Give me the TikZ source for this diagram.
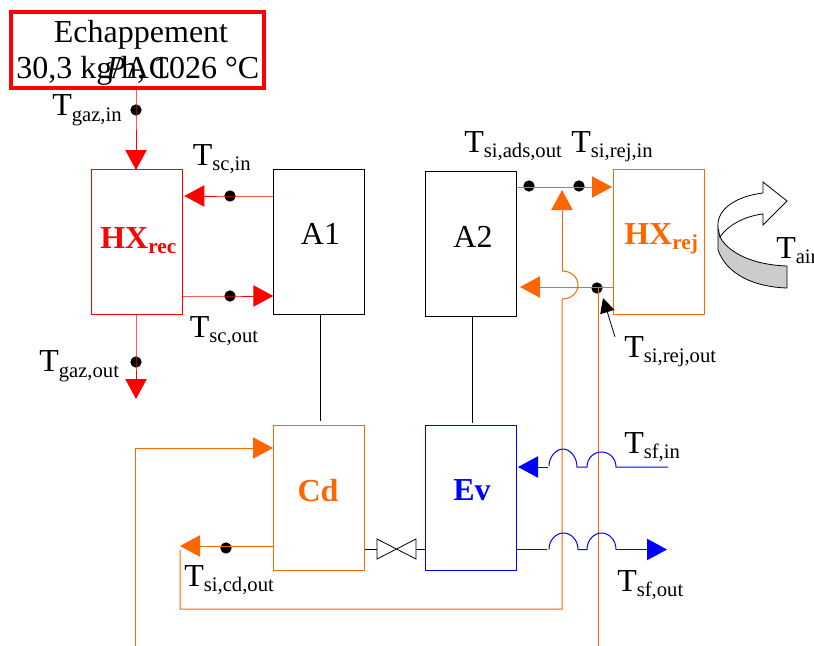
\documentclass[tikz,border=0pt]{standalone}
\usepackage{fontspec}
\setmainfont{Liberation Serif}
\usetikzlibrary{arrows.meta,calc}
\definecolor{orng}{HTML}{FF6600}
\newcommand{\Tsub}[1]{T\raisebox{-4.2pt}{\fontsize{15.5}{16}\selectfont #1}}
\newcommand{\Bsub}[2]{#1\raisebox{-4pt}{\fontsize{16}{16}\selectfont #2}}
\tikzset{
  box/.style={draw=#1,line width=.75pt,inner sep=0pt,minimum width=68.25pt,minimum height=108.75pt},
  lab/.style={anchor=base west,inner sep=0pt,font=\fontsize{24}{24}\selectfont},
  labc/.style={anchor=base,inner sep=0pt,font=\fontsize{24}{24}\selectfont},
  boldl/.style={anchor=base,inner sep=0pt,font=\fontsize{24}{24}\selectfont\bfseries,text=#1},
  dot/.style={circle,fill=black,inner sep=0pt,minimum size=8.5pt},
  pipe/.style={draw=#1,line width=.75pt},
  head/.style={-{Triangle[length=15pt,width=16pt,fill=#1]}},
  thin black/.style={draw=black,line width=.6pt}
}
\begin{document}
\begin{tikzpicture}[x=.75pt,y=-.75pt]
\useasboundingbox (0,0) rectangle (814,646);
% boxes
\node[draw=red,line width=3pt,inner sep=0pt,minimum width=190pt,minimum height=57.5pt] (ech) at (137.5,50) {};
\node[box=red] (HXrec) at (137.3,241.5) {};
\node[box=black] (A1) at (319.3,241.5) {};
\node[box=black] (A2) at (471.3,243.5) {};
\node[box=orng] (HXrej) at (659.3,241.5) {};
\node[box=orng] (Cd) at (319.3,497.5) {};
\node[box=blue] (Ev) at (471.3,497.5) {};
% box texts
\node[labc] (t1) at (141,42) {Echappement};
\node[lab] (t2) at (16,78) {30,3 kg/h, 1026 °C};
\node[lab] (t3) at (106,78) {\textit{P}AC};
\node[labc] (tA1) at (320.5,244) {A1};
\node[labc] (tA2) at (473,247) {A2};
\node[boldl=red,anchor=base west] (tHXrec) at (100,248.5) {\Bsub{HX}{rec}};
\node[boldl=orng,anchor=base west] (tHXrej) at (624,244.5) {\Bsub{HX}{rej}};
\node[boldl=orng] (tCd) at (318,501) {Cd};
\node[boldl=blue] (tEv) at (472,500) {Ev};
% coordinates
\coordinate (gin) at (136,89);
\coordinate (gintip) at (136,170);
\node[dot] (dgin) at (136,110) {};
\node[dot] (dscin) at (230,196) {};
\node[dot] (dscout) at (230,296) {};
\node[dot] (dgout) at (136,362) {};
\coordinate (gouttip) at (136,399);
\node[dot] (dads) at (529,186) {};
\node[dot] (drejin) at (579,186) {};
\node[dot] (drejout) at (597,288) {};
\node[dot] (dcd) at (226,548) {};
\coordinate (lA1) at (320,421);
\coordinate (lA2) at (472,423);
% red
\draw[pipe=red,head=red,red] (gin) -- (dgin.center) -- (gintip);
\draw[pipe=red,head=red,red] (A1.west |- dscin) -- (dscin.center) -- ($(HXrec.east |- dscin)+(1,0)$);
\draw[pipe=red,head=red,red] (HXrec.east |- dscout) -- (dscout.center) -- (A1.west |- dscout);
\draw[pipe=red,head=red,red] (HXrec.south -| dgout) -- (dgout.center) -- (gouttip);
% black links
\draw[thin black] (A1.south -| lA1) -- (lA1);
\draw[thin black] (A2.south -| lA2) -- (lA2);
% orange
\coordinate (tA2in) at (612,187);
\draw[pipe=orng,head=orng,orng] (A2.east |- tA2in) -- (tA2in);
\coordinate (vtip) at (562,190);
\coordinate (j1) at (562,271);
\coordinate (j2) at (562,299);
\coordinate (bc) at (562,609);
\coordinate (bl) at (180,609);
\coordinate (blt) at (180,550);
\draw[pipe=orng,head=orng,orng] (j1) -- (vtip);
\draw[pipe=orng] (j1) .. controls (571,271) and (578,277) .. (578,285) .. controls (578,293) and (571,299) .. (j2) -- (bc) -- (bl) -- (blt);
\coordinate (retTip) at (520,287);
\draw[pipe=orng,head=orng,orng] (HXrej.west |- retTip) -- (retTip);
\coordinate (rd) at (598,646);
\draw[pipe=orng] (rd |- drejout) -- (rd);
\coordinate (cdtip) at (180,546);
\draw[pipe=orng,head=orng,orng] (Cd.west |- cdtip) -- (cdtip);
\coordinate (ll) at (135,646);
\coordinate (lu) at (135,448);
\coordinate (cdin) at (273,448);
\draw[pipe=orng,head=orng,orng] (ll) -- (lu) -- (cdin);
% small black pointer
\coordinate (pt) at (615,337);
\coordinate (ptt) at (603,298);
\draw[black,line width=.6pt,-{Triangle[length=11pt,width=11pt]}] (pt) -- (ptt);
% blue
\coordinate (bin0) at (668,467);
\coordinate (bintip) at (518,467);
\draw[pipe=blue] (bin0) -- (616,467) .. controls (616,458) and (609,452) .. (601.5,452) .. controls (594,452) and (587,458) .. (587,467) -- (577,467) .. controls (577,457) and (570,449) .. (563,449) .. controls (556,449) and (549,457) .. (549,466);
\coordinate (bmid) at (548,467);
\draw[pipe=blue,head=blue,blue] (bmid) -- (bintip);
\coordinate (bout) at (667,549.5);
\draw[pipe=blue] (Ev.east |- bout) -- (547,549.5);
\draw[pipe=blue] (549,549.5) .. controls (549,540) and (556,533) .. (563.5,533) .. controls (571,533) and (578,540) .. (578,549.5) -- (587,549.5) .. controls (587,540) and (594,533) .. (601.5,533) .. controls (609,533) and (616,540) .. (616,549.5);
\draw[pipe=blue,head=blue,blue] (616,549.5) -- (bout);
% valve
\coordinate (va) at (377,549);
\coordinate (vb) at (416,549);
\draw[thin black] (Cd.east |- va) -- (va);
\draw[thin black] (vb) -- (Ev.west |- vb);
\draw[thin black] (377,539) -- (416,559) -- (416,539) -- (377,559) -- cycle;
% rotation arrow
\fill[gray!40,draw=black,line width=.6pt] (720,237) .. controls (729,254) and (755,265) .. (787,266) -- (787,288) .. controls (755,287) and (727,275) .. (718,250) -- (718,225) -- cycle;
\draw[fill=white,line width=.6pt] (720,237) .. controls (728,225) and (745,216) .. (763,214) -- (763,225) -- (787,201) -- (763,182) -- (763,193) .. controls (738,196) and (716,208) .. (718,228) -- cycle;
% labels
\node[lab] (lgin) at (52,115.5) {\Tsub{gaz,in}};
\node[lab] (lscin) at (192.5,165) {\Tsub{sc,in}};
\node[lab] (lscout) at (189.5,337) {\Tsub{sc,out}};
\node[lab] (lgout) at (39,371.5) {\Tsub{gaz,out}};
\node[lab] (lads) at (464,152) {\Tsub{si,ads,out}};
\node[lab] (lrin) at (571,152) {\Tsub{si,rej,in}};
\node[lab] (lair) at (776,258) {\Tsub{air}};
\node[lab] (lrout) at (624,357) {\Tsub{si,rej,out}};
\node[lab] (lsfin) at (624,453) {\Tsub{sf,in}};
\node[lab] (lsfout) at (617,591) {\Tsub{sf,out}};
\node[lab] (lcd) at (184,586) {\Tsub{si,cd,out}};
\end{tikzpicture}
\end{document}
